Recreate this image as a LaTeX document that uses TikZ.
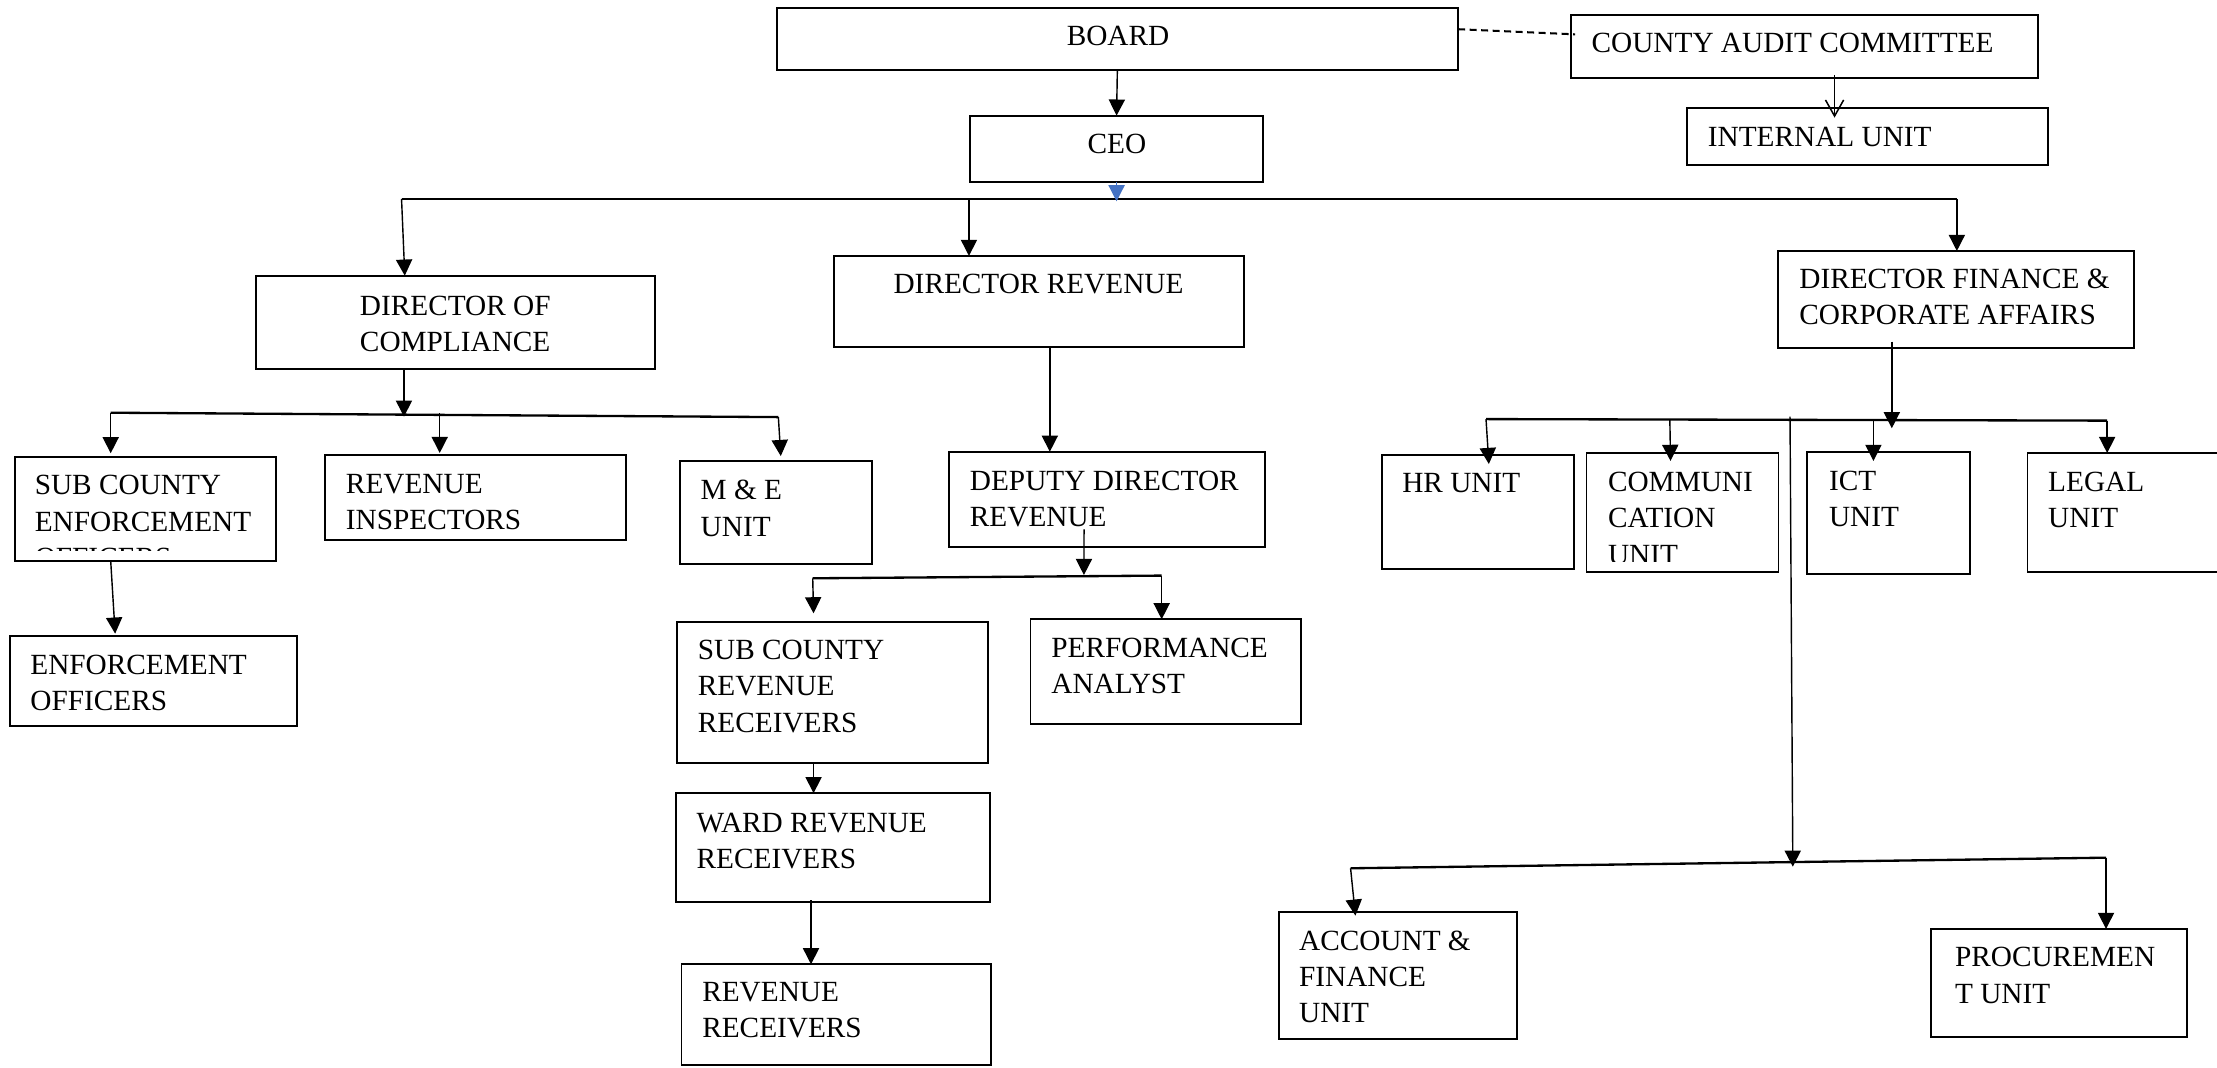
\documentclass[tikz,border=0pt]{standalone}
\usepackage{fontspec}
\setmainfont{Liberation Serif}
\usetikzlibrary{arrows.meta,fit}
\definecolor{arrowblue}{HTML}{4472C4}
\newcommand\ml[1]{\begin{tabular}[t]{@{}l@{}}#1\end{tabular}}
\begin{document}
\begin{tikzpicture}[x=0.7pt,y=-0.7pt,
  box/.style={draw, line width=0.9pt, inner sep=0pt, outer sep=0pt},
  txt/.style={anchor=base west, inner sep=0pt, outer sep=0pt, font=\fontsize{14.5pt}{18pt}\selectfont},
  conn/.style={line width=0.7pt, -{Triangle[length=8pt,width=8pt]}},
  bconn/.style={conn, color=arrowblue},
  bus/.style={line width=1.15pt},
  dsh/.style={line width=1pt, dash pattern=on 3.5pt off 2.2pt},
  oconn/.style={line width=0.75pt, -{Straight Barb[length=8pt,width=9pt]}},
]
\useasboundingbox (0,0) rectangle (1568,755);
\fill[white] (0,0) rectangle (1568,755);
\clip (0,0) rectangle (1568,755);

% ---------- boxes ----------
\node[box, fit={(549.3,5.9) (1031.2,49.7)}] (board) {};
\node[box, fit={(1111.1,10.6) (1441.3,55.4)}] (cac) {};
\node[box, fit={(1193.2,76.2) (1448.3,116.5)}] (intu) {};
\node[box, fit={(685.9,81.8) (893.5,128.5)}] (ceo) {};
\node[box, fit={(181,195) (463.2,261)}] (doc) {};
\node[box, fit={(590,181) (880,245.2)}] (dr) {};
\node[box, fit={(1257.7,177.5) (1509.3,246.4)}] (dfca) {};
\node[box, fit={(10.4,323) (195.1,396.8)}] (scef) {};
\node[box, fit={(229.9,321.8) (443,381.9)}] (rinsp) {};
\node[box, fit={(481,326) (617,398.9)}] (me) {};
\node[box, fit={(6.9,449.6) (210,513.2)}] (eo) {};
\node[box, fit={(671.4,319.5) (894.7,386.6)}] (ddr) {};
\node[box, fit={(478.7,439.7) (699,539.4)}] (scrr) {};
\node[box, fit={(728.8,438) (919.9,512)}] (pa) {};
\node[box, fit={(477.9,561) (700.2,637.7)}] (wrr) {};
\node[box, fit={(482,682) (701,753)}] (rr) {};
\node[box, fit={(977.3,321.8) (1113,402.4)}] (hr) {};
\node[box, fit={(1122,320.4) (1257.8,404.8)}] (comm) {};
\node[box, fit={(1278,319.4) (1393.3,406.2)}] (ict) {};
\node[box, fit={(1434,320.4) (1620,404.3)}] (legal) {};
\node[box, fit={(904.6,645.2) (1072.7,735)}] (af) {};
\node[box, fit={(1365.7,657) (1546.6,733.7)}] (proc) {};

% ---------- texts ----------
\node[txt] (boardT) at (754.5,32.3) {BOARD};
\node[txt] (cacT) at (1125.7,37) {COUNTY AUDIT COMMITTEE};
\node[txt] (intuT) at (1207.9,103.7) {INTERNAL UNIT};
\node[txt] (ceoT) at (769.2,108.9) {CEO};
\node[txt] (docT) at (254.6,222.8) {\ml{DIRECTOR OF\\COMPLIANCE}};
\node[txt] (drT) at (632,207.5) {DIRECTOR REVENUE};
\node[txt] (dfcaT) at (1272.6,203.9) {\ml{DIRECTOR FINANCE \&\\CORPORATE AFFAIRS}};
\begin{scope}
  \clip (10.4,323) rectangle (195.1,389.5);
  \node[txt] (scefT) at (24.6,350) {\ml{SUB COUNTY\\ENFORCEMENT\\OFFICERS}};
\end{scope}
\node[txt] (rinspT) at (244.7,348.9) {\ml{REVENUE\\INSPECTORS}};
\node[txt] (meT) at (495.6,353.6) {\ml{M \& E\\UNIT}};
\node[txt] (eoT) at (21.5,476.7) {\ml{ENFORCEMENT\\OFFICERS}};
\node[txt] (ddrT) at (686,346.6) {\ml{DEPUTY DIRECTOR\\REVENUE}};
\node[txt] (scrrT) at (493.6,466.3) {\ml{SUB COUNTY\\REVENUE\\RECEIVERS}};
\node[txt] (paT) at (743.6,465.1) {\ml{PERFORMANCE\\ANALYST}};
\node[txt] (wrrT) at (492.7,588.7) {\ml{WARD REVENUE\\RECEIVERS}};
\node[txt] (rrT) at (496.7,708.4) {\ml{REVENUE\\RECEIVERS}};
\node[txt] (hrT) at (991.8,348.4) {HR UNIT};
\begin{scope}
  \clip (1122,320.4) rectangle (1257.8,397.2);
  \node[txt] (commT) at (1137.3,347.7) {\ml{COMMUNI\\CATION\\UNIT}};
\end{scope}
\node[txt] (ictT) at (1293.6,346.6) {\ml{ICT\\UNIT}};
\node[txt] (legalT) at (1448.6,347.7) {\ml{LEGAL\\UNIT}};
\node[txt] (afT) at (918.8,671.9) {\ml{ACCOUNT \&\\FINANCE\\UNIT}};
\node[txt] (procT) at (1382.7,683.7) {\ml{PROCUREMEN\\T UNIT}};

% ---------- junction coordinates ----------
\coordinate (b1L) at (284,140.7);
\coordinate (b1M) at (685.3,140.7);
\coordinate (b1R) at (1384,140.7);
\coordinate (b1C) at (789.7,142.4);
\coordinate (b2L) at (78.3,291.9);
\coordinate (b2a) at (311,292.2);
\coordinate (b2M) at (285.7,294.7);
\coordinate (b2R) at (550.5,295);
\coordinate (xdr) at (742.5,0);
\coordinate (ddrs) at (766.7,374.4);
\coordinate (b3M) at (766.6,406.7);
\coordinate (b3L) at (574.8,409);
\coordinate (b3R) at (821.6,407.1);
\coordinate (t3L) at (575.4,433.8);
\coordinate (xrr) at (573.6,0);
\coordinate (dfs) at (1338,241.7);
\coordinate (b4M) at (1338,302.9);
\coordinate (b4L) at (1051,296.4);
\coordinate (b4c) at (1181,296.6);
\coordinate (b4i) at (1325,297);
\coordinate (b4R) at (1490.3,297.5);
\coordinate (thr) at (1053,328.2);
\coordinate (tcomm) at (1181.5,326);
\coordinate (tict) at (1325,326);
\coordinate (vtop) at (1266,294.7);
\coordinate (b5M) at (1268,613);
\coordinate (b5L) at (955.2,614.1);
\coordinate (b5R) at (1489.5,606.6);
\coordinate (xcac) at (1297.5,0);

% ---------- connectors ----------
\draw[dsh] ([yshift=5pt]board.east) -- ([yshift=6.1pt,xshift=2pt]cac.west);
\draw[conn] (board.south) -- (ceo.north);
\draw[oconn] ([yshift=1.7pt]cac.south -| xcac) -- ([yshift=-4.9pt]intu.north -| xcac);

\draw[bus] (b1L) -- (b1R);
\draw[bconn] (ceo.south -| b1C) -- (b1C);
\draw[conn] (b1L) -- ([xshift=1.6pt]doc.north -| b1L);
\draw[conn] (b1M) -- (dr.north -| b1M);
\draw[conn] (b1R) -- (dfca.north -| b1R);

\draw[conn] (doc.south -| b2M) -- (b2M);
\draw[bus] (b2L) -- (b2R);
\draw[conn] (b2L) -- ([yshift=1.7pt]scef.north -| b2L);
\draw[conn] (b2a) -- ([yshift=1pt]rinsp.north -| b2a);
\draw[conn] (b2R) -- ([xshift=1.2pt,yshift=2.4pt]me.north -| b2R);
\draw[conn] (scef.south -| b2L) -- ([xshift=2.2pt,yshift=1pt]eo.north -| b2L);

\draw[conn] (dr.south -| xdr) -- (ddr.north -| xdr);
\draw[conn] (ddrs) -- (b3M);
\draw[bus] (b3L) -- (b3R);
\draw[conn] (b3L) -- (t3L);
\draw[conn] (b3R) -- (pa.north -| b3R);
\draw[conn] (scrr.south -| t3L) -- (wrr.north -| t3L);
\draw[conn] ([yshift=0.8pt]wrr.south -| xrr) -- (rr.north -| xrr);

\draw[conn] (dfs) -- (b4M);
\draw[bus] (b4L) -- (b4R);
\draw[conn] (b4L) -- (thr);
\draw[conn] (b4c) -- (tcomm);
\draw[conn] (b4i) -- (tict);
\draw[conn] (b4R) -- (legal.north -| b4R);
\draw[conn] (vtop) -- (b5M);
\draw[bus] (b5L) -- (b5R);
\draw[conn] (b5L) -- ([xshift=2.4pt,yshift=-1.7pt]af.north -| b5L);
\draw[conn] (b5R) -- (proc.north -| b5R);
\end{tikzpicture}
\end{document}
